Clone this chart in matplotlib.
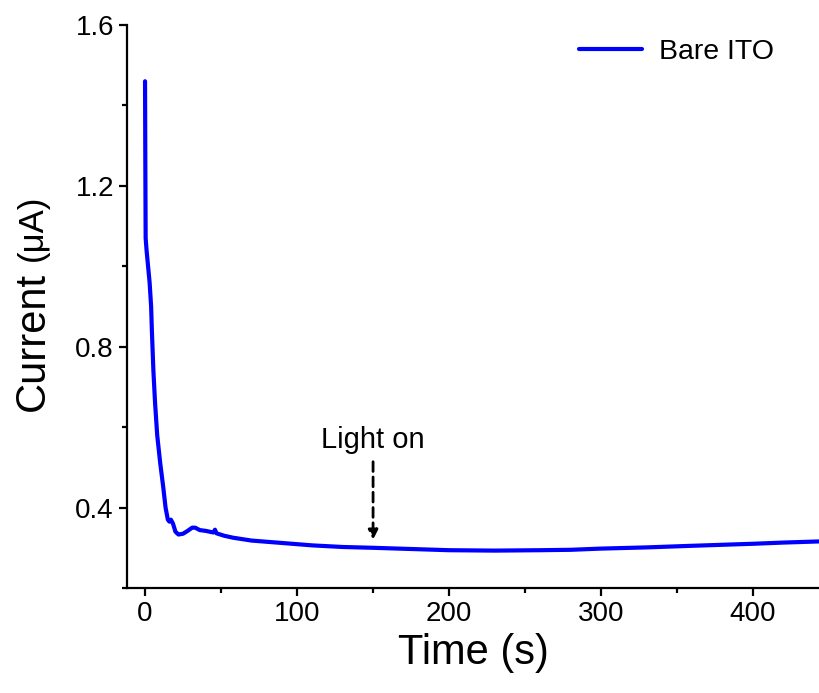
import matplotlib.pyplot as plt
from matplotlib.ticker import MultipleLocator

plt.rcParams['font.family'] = ['Liberation Sans', 'DejaVu Sans']

# trace
time_s = [0, 0.2, 0.4, 1, 2, 3, 4, 4.5, 5.5, 6.6, 8, 10, 12, 13.5, 15, 16,
          17, 18.4, 20, 22, 25, 28, 31, 33, 36, 40, 45, 46, 47, 52, 58, 70,
          90, 110, 130, 150, 175, 200, 230, 260, 280, 300, 330, 360, 400,
          420, 445]
current_uA = [1.46, 1.25, 1.07, 1.04, 1.0, 0.96, 0.90, 0.84, 0.74, 0.66, 0.58,
              0.51, 0.45, 0.40, 0.37, 0.365, 0.37, 0.36, 0.34, 0.333, 0.335,
              0.342, 0.35, 0.35, 0.344, 0.342, 0.338, 0.345, 0.336, 0.33,
              0.325, 0.318, 0.312, 0.306, 0.302, 0.300, 0.297, 0.294, 0.293,
              0.294, 0.295, 0.298, 0.301, 0.305, 0.310, 0.313, 0.316]
series_label = "Bare ITO"
light_on_t = 150
light_arrow = (0.514, 0.32)

fig = plt.figure(figsize=(8.2, 6.93), dpi=100)
ax = fig.add_axes([0.155, 0.1515, 0.845, 0.8125])

ax.plot(time_s, current_uA, color='#0000ff', lw=3, label=series_label,
        solid_capstyle='round', solid_joinstyle='round')

ax.set_xlim(-11.8, 444)
ax.set_ylim(0.2, 1.6)
ax.xaxis.set_major_locator(MultipleLocator(100))
ax.xaxis.set_minor_locator(MultipleLocator(50))
ax.yaxis.set_major_locator(MultipleLocator(0.4))
ax.yaxis.set_minor_locator(MultipleLocator(0.2))
ax.yaxis.set_major_formatter(plt.FuncFormatter(lambda v, p: f"{v:.1f}"))

for s in ['top', 'right']:
    ax.spines[s].set_visible(False)
for s in ['left', 'bottom']:
    ax.spines[s].set_linewidth(1.6)
ax.tick_params(which='major', direction='out', length=6, width=1.6, labelsize=20)
ax.tick_params(which='minor', direction='out', length=3.5, width=1.6)

ax.set_xlabel("Time (s)", fontsize=30, labelpad=4)
ax.text(-0.136, 0.437, "Current", rotation=90, fontsize=30, transform=ax.transAxes,
        ha='center', va='center')
ax.text(-0.136, 0.64, "(μA)", rotation=90, fontsize=25, transform=ax.transAxes,
        ha='center', va='center')

ax.annotate("", xy=(light_on_t, light_arrow[1]), xytext=(light_on_t, light_arrow[0]),
            arrowprops=dict(arrowstyle='-|>', ls=(0, (3.5, 2)), lw=2, color='black',
                            mutation_scale=14, shrinkA=0, shrinkB=0))
ax.text(light_on_t, 0.569, "Light on", fontsize=21, ha='center', va='center')

ax.legend(loc='upper right', frameon=False, fontsize=20.5, handlelength=2.2,
          handletextpad=0.6, bbox_to_anchor=(0.97, 1.02))

fig.savefig("out.png", dpi=100)
